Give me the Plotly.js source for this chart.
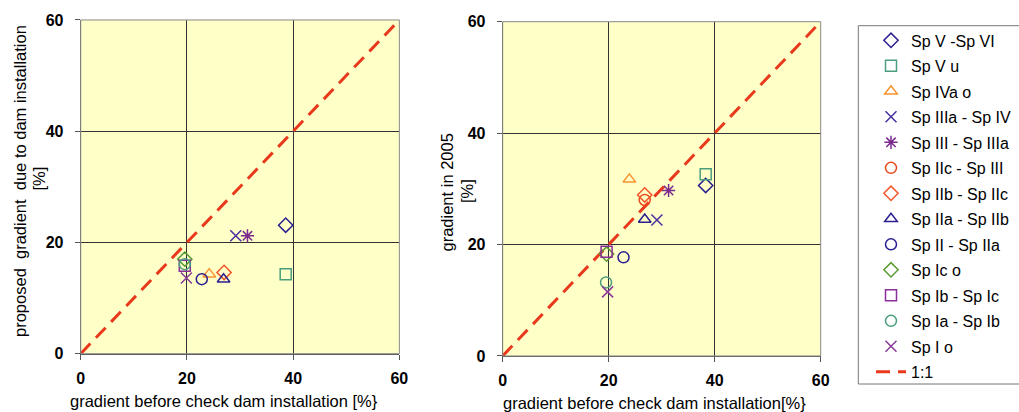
<!DOCTYPE html>
<html>
<head>
<meta charset="utf-8">
<script src="https://cdn.plot.ly/plotly-3.0.1.min.js"></script>
<style>html,body{margin:0;padding:0;background:#fff;}#chart{width:1019px;height:412px;}</style>
</head>
<body>
<div id="chart"></div>
<script>
const seriesNames = ['Sp V -Sp VI','Sp V u','Sp IVa o','Sp IIIa - Sp IV','Sp III - Sp IIIa','Sp IIc - Sp III','Sp IIb - Sp IIc','Sp IIa - Sp IIb','Sp II - Sp IIa','Sp Ic o','Sp Ib - Sp Ic','Sp Ia - Sp Ib','Sp I o'];
const seriesSymbols = ['diamond-open','square-open','triangle-up-open','x-thin-open','asterisk-open','circle-open','diamond-open','triangle-up-open','circle-open','diamond-open','square-open','circle-open','x-thin-open'];
const seriesColors = ['#2a1f8f','#4a9e7c','#f7922e','#4a2fa0','#7a2a8c','#ea4a1e','#f0562a','#2a1f8f','#2a1f8f','#5a9a32','#8a2e9a','#4a9e7c','#8a3a9a'];
// left panel: gradient before vs proposed gradient
const beforeLeft = [38.6, 38.6, 24.2, 29.2, 31.4, null, 27.0, 26.9, 22.8, 19.6, 19.6, 19.6, 19.9];
const proposed   = [23.1, 14.3, 14.3, 21.2, 21.2, null, 14.6, 13.4, 13.4, 17.0, 15.8, 16.1, 13.6];
// right panel: gradient before vs gradient in 2005
const beforeRight = [38.3, 38.3, 23.9, 29.1, 31.3, 26.8, 26.8, 26.8, 22.8, 19.6, 19.6, 19.5, 19.8];
const grad2005    = [30.6, 32.6, 31.7, 24.4, 29.7, 28.0, 28.9, 24.5, 17.7, 18.3, 18.7, 13.2, 11.5];
const oneToOne = [0, 60];
const tickVals = [0, 20, 40, 60];
const xTitleLeft = 'gradient before check dam installation [%}';
const xTitleRight = 'gradient before check dam installation[%}';
const yTitleLeft = ['proposed  gradient  due to dam installation', '[%]'];
const yTitleRight = ['gradient in 2005', '[%]'];

const traces = [];
seriesNames.forEach((name, i) => {
  const mk = {symbol: seriesSymbols[i], color: seriesColors[i], size: 11, line: {width: 1.5, color: seriesColors[i]}};
  traces.push({type: 'scatter', mode: 'markers', name: name, x: [beforeLeft[i]], y: [proposed[i]], xaxis: 'x', yaxis: 'y', marker: mk, legendgroup: 'g' + i, legendrank: i + 1, showlegend: true, cliponaxis: false});
  traces.push({type: 'scatter', mode: 'markers', name: name, x: [beforeRight[i]], y: [grad2005[i]], xaxis: 'x2', yaxis: 'y2', marker: mk, legendgroup: 'g' + i, legendrank: i + 1, showlegend: false, cliponaxis: false});
});
const lineStyle = {color: '#e8391c', width: 3, dash: '14px,8px'};
traces.unshift({type: 'scatter', mode: 'lines', name: '1:1', x: oneToOne, y: oneToOne, xaxis: 'x2', yaxis: 'y2', line: lineStyle, showlegend: false, legendgroup: 'line', legendrank: 100});
traces.unshift({type: 'scatter', mode: 'lines', name: '1:1', x: oneToOne, y: oneToOne, xaxis: 'x', yaxis: 'y', line: lineStyle, showlegend: true, legendgroup: 'line', legendrank: 100});

const FONT = 'Liberation Sans, Arial, sans-serif';
const tickFont = {family: FONT, size: 16, color: '#000', weight: 'bold'};
function ax(domain, anchor, standoff) {
  return {domain: domain, anchor: anchor, range: [0, 60], tickvals: tickVals, ticktext: tickVals.map(String),
    ticks: 'outside', ticklen: 5, tickcolor: '#555', tickwidth: 1, tickfont: tickFont, ticklabelstandoff: standoff,
    showgrid: true, gridcolor: '#333', gridwidth: 1, zeroline: false,
    showline: true, linecolor: '#555', linewidth: 1, mirror: false, fixedrange: true};
}
const W = 1019, H = 412;
function px(x) { return x / W; }
function py(y) { return 1 - y / H; }
const tf = {family: FONT, size: 16.5, color: '#000'};
const annotations = [
  {xref: 'paper', yref: 'paper', x: px(223.5), y: py(401), text: xTitleLeft, showarrow: false, xanchor: 'center', yanchor: 'middle', font: tf},
  {xref: 'paper', yref: 'paper', x: px(654), y: py(403), text: xTitleRight, showarrow: false, xanchor: 'center', yanchor: 'middle', font: tf},
  {xref: 'paper', yref: 'paper', x: px(20), y: py(181), text: yTitleLeft[0], textangle: -90, showarrow: false, xanchor: 'center', yanchor: 'middle', font: tf},
  {xref: 'paper', yref: 'paper', x: px(38.5), y: py(179), text: yTitleLeft[1], textangle: -90, showarrow: false, xanchor: 'center', yanchor: 'middle', font: tf},
  {xref: 'paper', yref: 'paper', x: px(447), y: py(192.5), text: yTitleRight[0], textangle: -90, showarrow: false, xanchor: 'center', yanchor: 'middle', font: tf},
  {xref: 'paper', yref: 'paper', x: px(466.5), y: py(191.5), text: yTitleRight[1], textangle: -90, showarrow: false, xanchor: 'center', yanchor: 'middle', font: tf}
];
const layout = {
  width: W, height: H,
  margin: {l: 0, r: 0, t: 0, b: 0},
  paper_bgcolor: '#fff', plot_bgcolor: '#ffffc8',
  font: {family: FONT, size: 16, color: '#000'},
  xaxis: ax([0.0792, 0.3919], 'y', 5),
  yaxis: ax([0.1415, 0.9515], 'x', 8),
  xaxis2: ax([0.4933, 0.8054], 'y2', 5),
  yaxis2: ax([0.136, 0.9473], 'x2', 8),
  showlegend: true,
  legend: {x: px(871), y: py(23.4), xanchor: 'left', yanchor: 'top', borderwidth: 0,
    bgcolor: 'rgba(0,0,0,0)', font: {family: FONT, size: 16, color: '#000'}, traceorder: 'grouped', tracegroupgap: 1.7},
  annotations: annotations,
  shapes: [
    {type: 'rect', xref: 'x domain', yref: 'y domain', x0: 0, x1: 1, y0: 0, y1: 1, line: {color: '#888', width: 1}},
    {type: 'rect', xref: 'x2 domain', yref: 'y2 domain', x0: 0, x1: 1, y0: 0, y1: 1, line: {color: '#888', width: 1}},
    {type: 'rect', xref: 'paper', yref: 'paper', x0: px(858.3), x1: px(1030), y0: py(384), y1: py(25.7), line: {color: '#777', width: 1}, fillcolor: 'rgba(0,0,0,0)'}
  ]
};
Plotly.newPlot('chart', traces, layout, {displayModeBar: false, staticPlot: true});
</script>
</body>
</html>
